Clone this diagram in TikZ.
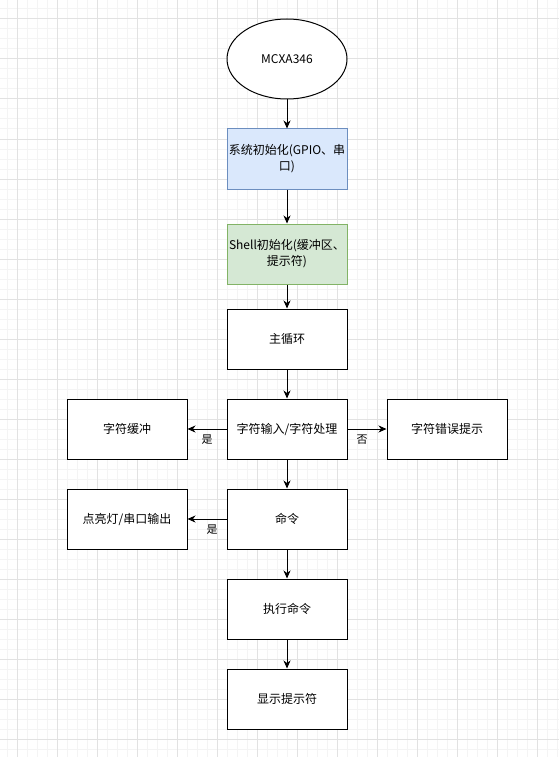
\documentclass[tikz,border=0pt]{standalone}
\usepackage{fontspec}
\setmainfont{Noto Sans CJK SC}
\usetikzlibrary{shapes.geometric,arrows.meta}

\definecolor{initblue}{HTML}{DAE8FC}
\definecolor{initblueline}{HTML}{6C8EBF}
\definecolor{shellgreen}{HTML}{D5E8D4}
\definecolor{shellgreenline}{HTML}{82B366}
\definecolor{minorline}{HTML}{F4F4F4}
\definecolor{majorline}{HTML}{E2E2E2}

\begin{document}
\begin{tikzpicture}[x=1pt,y=-1pt,
    box/.style={draw,line width=1pt,minimum width=120pt,minimum height=60pt,inner sep=0pt,align=center,font=\fontsize{12}{16}\selectfont},
    flow/.style={-{Stealth[length=8pt,width=7pt,inset=2.5pt]},line width=1pt},
    lbl/.style={font=\fontsize{11}{13}\selectfont}]

    \useasboundingbox (0,0) rectangle (559,757);

    %grid
    \fill[white] (0,0) rectangle (559,757);
    \foreach \gx in {7,17,...,557} \draw[minorline,line width=1pt] (\gx,0) -- (\gx,757);
    \foreach \gy in {9,19,...,749} \draw[minorline,line width=1pt] (0,\gy) -- (559,\gy);
    \foreach \gx in {17,57,...,537} \draw[majorline,line width=1pt] (\gx,0) -- (\gx,757);
    \foreach \gy in {19,59,...,739} \draw[majorline,line width=1pt] (0,\gy) -- (559,\gy);

    %start
    \node[ellipse,draw,fill=white,line width=1pt,minimum width=120pt,minimum height=80pt,inner sep=0pt,font=\fontsize{12}{16}\selectfont] (mcu) at (287,59) {MCXA346};

    %init
    \node[box,fill=initblue,draw=initblueline] (sysinit) at (287,159) {系统初始化(GPIO、串\\口)};
    \node[box,fill=shellgreen,draw=shellgreenline] (shellinit) at (287,254) {Shell初始化(缓冲区、\\提示符)};

    %loop
    \node[box,fill=white] (mainloop) at (287,339) {主循环};
    \node[box,fill=white] (charin) at (287,429) {字符输入/字符处理};
    \node[box,fill=white] (charbuf) at (127,429) {字符缓冲};
    \node[box,fill=white] (charerr) at (447,429) {字符错误提示};
    \node[box,fill=white] (cmd) at (287,519) {命令};
    \node[box,fill=white] (ledout) at (127,519) {点亮灯/串口输出};
    \node[box,fill=white] (exec) at (287,609) {执行命令};
    \node[box,fill=white] (prompt) at (287,699) {显示提示符};

    %arrows
    \draw[flow] (mcu) -- (sysinit);
    \draw[flow] (sysinit) -- (shellinit);
    \draw[flow] (shellinit) -- (mainloop);
    \draw[flow] (mainloop) -- (charin);
    \draw[flow] (charin) -- (charbuf);
    \draw[flow] (charin) -- (charerr);
    \draw[flow] (charin) -- (cmd);
    \draw[flow] (cmd) -- (ledout);
    \draw[flow] (cmd) -- (exec);
    \draw[flow] (exec) -- (prompt);

    \node[lbl] (yesbuf) at (207,440) {是};
    \node[lbl] (noerr) at (362,440) {否};
    \node[lbl] (yesled) at (212,530) {是};

\end{tikzpicture}
\end{document}
